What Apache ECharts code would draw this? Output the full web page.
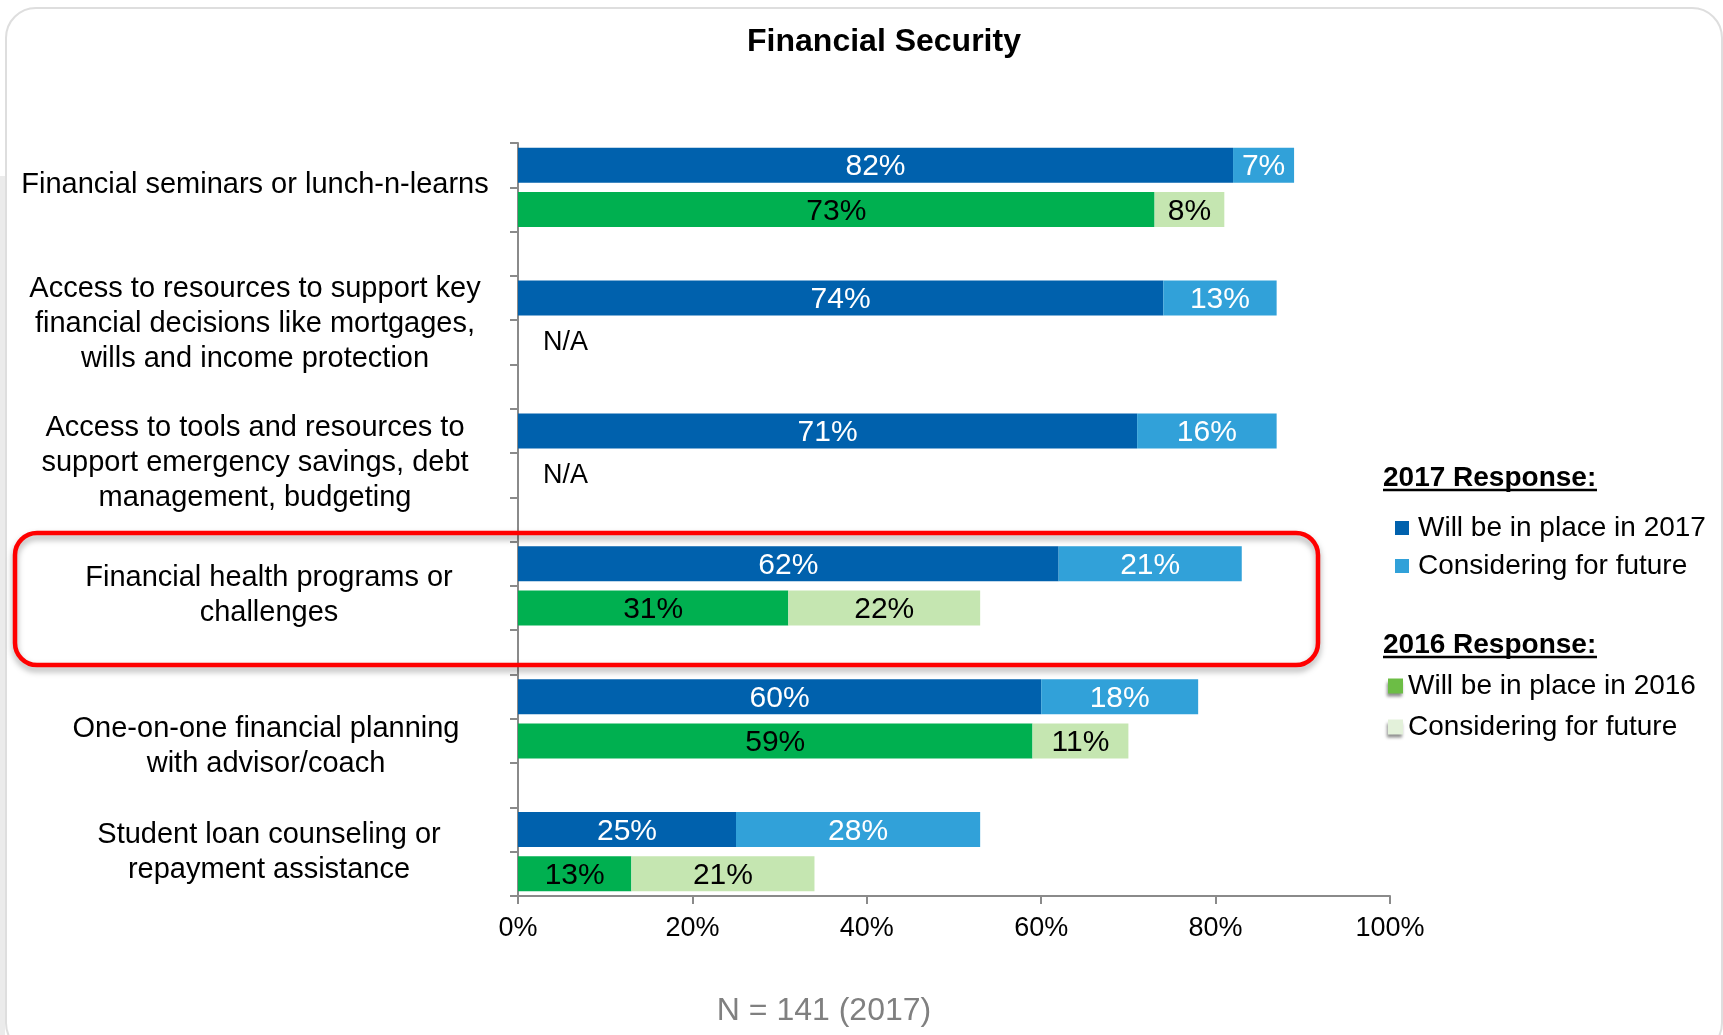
<!DOCTYPE html>
<html>
<head>
<meta charset="utf-8">
<title>Financial Security</title>
<script src="https://cdn.jsdelivr.net/npm/echarts@6/dist/echarts.min.js"></script>
<style>
  html, body { margin: 0; padding: 0; background: #ffffff; }
  #chart { width: 1723px; height: 1035px; }
</style>
</head>
<body>
<div id="chart"></div>
<script>
// Program categories (one group of bars each)
const groupLabels = [
  'Financial seminars or lunch-n-learns',
  'Access to resources to support key\nfinancial decisions like mortgages,\nwills and income protection',
  'Access to tools and resources to\nsupport emergency savings, debt\nmanagement, budgeting',
  'Financial health programs or\nchallenges',
  'One-on-one financial planning\nwith advisor/coach',
  'Student loan counseling or\nrepayment assistance'
];

// 2017 survey responses (%)
const inPlace2017 = [82, 74, 71, 62, 60, 25];
const considering2017 = [7, 13, 16, 21, 18, 28];

// 2016 survey responses (%), null = not asked that year
const inPlace2016 = [73, null, null, 31, 59, 13];
const considering2016 = [8, null, null, 22, 11, 21];

// Value axis ticks (%)
const xTicks = [0, 20, 40, 60, 80, 100];

// Fine placement of the category captions (px)
const captionShiftX = [-1, 0, 0, 14, 11, 14];
const captionShiftY = [-2, 4, 10, 10, 28, 1];

const FONT = '"Liberation Sans", Arial, Helvetica, sans-serif';

// Layout of the plot area
const GRID = { left: 518, right: 333, top: 143, height: 753 };

// One row per bar: 2017 row, 2016 row, then a spacer between groups
const rows = [];
groupLabels.forEach((g, i) => {
  rows.push({ g: i, kind: '2017' });
  rows.push({ g: i, kind: '2016' });
  if (i < groupLabels.length - 1) rows.push({ g: i, kind: 'gap' });
});
const rowKeys = rows.map(r => r.g + '-' + r.kind);
// Row boundaries: captions sit on the boundary between a group's two bars
const boundaryKeys = rows.map((r, i) => 'b' + i).concat(['b' + rows.length]);

function pick(kind, arr) {
  return rows.map(r => (r.kind === kind && arr[r.g] != null) ? arr[r.g] : '-');
}

const naData = rows.map(r => (r.kind === '2016' && inPlace2016[r.g] == null) ? 0 : '-');

// Rich text styles for the captions
const captionRich = {};
groupLabels.forEach((_, g) => {
  captionRich['t' + g] = {
    fontFamily: FONT, fontSize: 29, lineHeight: 35, color: '#000000',
    padding: [0, 0, 0, Math.max(0, 2 * captionShiftX[g])]
  };
  captionRich['s' + g] = {
    fontFamily: FONT, fontSize: 1, lineHeight: Math.max(1, 2 * Math.abs(captionShiftY[g]))
  };
});

function captionFor(idx) {
  if (idx % 3 !== 1) return '';
  const g = (idx - 1) / 3;
  const lines = groupLabels[g].split('\n').map(l => '{t' + g + '|' + l + '}');
  const dy = captionShiftY[g];
  if (dy > 0) lines.unshift('{s' + g + '| }');
  else if (dy < 0) lines.push('{s' + g + '| }');
  return lines.join('\n');
}

const labelWhite = {
  show: true, position: 'inside', formatter: '{c}%', offset: [0, 2],
  color: '#ffffff', fontSize: 30, fontFamily: FONT
};
const labelBlack = Object.assign({}, labelWhite, { color: '#000000' });

const BAR_W = 35;

const option = {
  animation: false,
  backgroundColor: '#ffffff',
  title: [
    {
      text: 'Financial Security', left: 879, top: 21, textAlign: 'center',
      textStyle: { fontFamily: FONT, fontSize: 32, fontWeight: 'bold', color: '#000000' }
    },
    {
      text: '2017 Response:', left: 1383, top: 464, padding: 0,
      textStyle: { fontFamily: FONT, fontSize: 28, fontWeight: 'bold', color: '#000000' }
    },
    {
      text: '2016 Response:', left: 1383, top: 631, padding: 0,
      textStyle: { fontFamily: FONT, fontSize: 28, fontWeight: 'bold', color: '#000000' }
    },
    {
      text: 'N = 141 (2017)', left: 819, top: 990, textAlign: 'center',
      textStyle: { fontFamily: FONT, fontSize: 32, fontWeight: 'normal', color: '#808080' }
    }
  ],
  legend: [
    {
      orient: 'vertical', left: 1395, top: 514, padding: 0, itemGap: 10,
      itemWidth: 14, itemHeight: 14, icon: 'rect', selectedMode: false,
      data: ['Will be in place in 2017', 'Considering for future (2017)'],
      formatter: n => n.replace(' (2017)', ''),
      textStyle: { fontFamily: FONT, fontSize: 28, color: '#000000', padding: [0, 0, 0, 4] }
    },
    {
      orient: 'vertical', left: 1388, top: 672, padding: 0, itemGap: 13,
      itemWidth: 15, itemHeight: 15, icon: 'rect', selectedMode: false,
      data: [
        { name: 'Will be in place in 2016',
          itemStyle: { color: '#6CBD45', shadowColor: 'rgba(0,0,0,0.45)', shadowBlur: 3, shadowOffsetX: -1, shadowOffsetY: 3 } },
        { name: 'Considering for future (2016)',
          itemStyle: { color: '#E3F1DA', shadowColor: 'rgba(0,0,0,0.45)', shadowBlur: 3, shadowOffsetX: -1, shadowOffsetY: 3 } }
      ],
      formatter: n => n.replace(' (2016)', ''),
      textStyle: { fontFamily: FONT, fontSize: 28, color: '#000000' }
    }
  ],
  grid: {
    left: GRID.left, right: GRID.right, top: GRID.top, height: GRID.height,
    containLabel: false, outerBoundsMode: 'none'
  },
  xAxis: {
    type: 'value',
    min: xTicks[0], max: xTicks[xTicks.length - 1], interval: xTicks[1] - xTicks[0],
    axisLine: { show: true, lineStyle: { color: '#8a8a8a', width: 2 } },
    axisTick: { show: true, length: 8, lineStyle: { color: '#8a8a8a', width: 2 } },
    splitLine: { show: false },
    axisLabel: {
      formatter: '{value}%', margin: 19,
      fontFamily: FONT, fontSize: 27, color: '#000000'
    }
  },
  yAxis: [
    {
      // bar rows
      type: 'category',
      inverse: true,
      data: rowKeys,
      axisLine: { show: true, lineStyle: { color: '#8a8a8a', width: 2 } },
      axisTick: { show: true, length: 8, interval: 0, lineStyle: { color: '#8a8a8a', width: 2 } },
      axisLabel: { show: false }
    },
    {
      // captions placed on row boundaries
      type: 'category',
      position: 'left',
      inverse: true,
      boundaryGap: false,
      data: boundaryKeys,
      axisLine: { show: false },
      axisTick: { show: false },
      splitLine: { show: false },
      axisLabel: {
        show: true,
        interval: 0,
        hideOverlap: false,
        margin: 263,
        align: 'center',
        fontFamily: FONT, fontSize: 29, lineHeight: 35, color: '#000000',
        rich: captionRich,
        formatter: (value, idx) => captionFor(idx)
      }
    }
  ],
  series: [
    {
      name: 'Will be in place in 2017', type: 'bar', stack: 'total', barWidth: BAR_W,
      data: pick('2017', inPlace2017),
      itemStyle: { color: '#0061AD' }, label: labelWhite
    },
    {
      name: 'Considering for future (2017)', type: 'bar', stack: 'total', barWidth: BAR_W,
      data: pick('2017', considering2017),
      itemStyle: { color: '#31A1D9' }, label: labelWhite
    },
    {
      name: 'Will be in place in 2016', type: 'bar', stack: 'total', barWidth: BAR_W,
      data: pick('2016', inPlace2016),
      itemStyle: { color: '#00B050' }, label: labelBlack
    },
    {
      name: 'Considering for future (2016)', type: 'bar', stack: 'total', barWidth: BAR_W,
      data: pick('2016', considering2016),
      itemStyle: { color: '#C5E6B1' }, label: labelBlack
    },
    {
      name: 'not asked', type: 'bar', stack: 'total', barWidth: BAR_W,
      data: naData, silent: true,
      itemStyle: { color: 'rgba(0,0,0,0)' },
      label: {
        show: true, position: 'right', distance: 25, formatter: 'N/A',
        fontFamily: FONT, fontSize: 27, color: '#000000'
      }
    }
  ],
  graphic: [
    // panel frame
    {
      type: 'rect', z: -10, silent: true,
      shape: { x: 6, y: 8, width: 1716, height: 1045, r: 30 },
      style: { fill: 'none', stroke: '#dedede', lineWidth: 2 }
    },
    {
      type: 'rect', z: -11, silent: true,
      shape: { x: 0, y: 176, width: 5, height: 859 },
      style: { fill: '#ebebeb' }
    },
    // underlines of the legend headers
    {
      type: 'line', silent: true,
      shape: { x1: 1383, y1: 490, x2: 1597, y2: 490 },
      style: { stroke: '#000000', lineWidth: 2.5 }
    },
    {
      type: 'line', silent: true,
      shape: { x1: 1383, y1: 657, x2: 1597, y2: 657 },
      style: { stroke: '#000000', lineWidth: 2.5 }
    },
    // highlight around the financial health programs group
    {
      type: 'rect', z: 100, silent: true,
      shape: { x: 15, y: 533, width: 1303, height: 132, r: 22 },
      style: {
        fill: 'none', stroke: '#FF0000', lineWidth: 4.5,
        shadowColor: 'rgba(0,0,0,0.35)', shadowBlur: 6, shadowOffsetX: 0, shadowOffsetY: 4
      }
    }
  ]
};

const chart = echarts.init(document.getElementById('chart'), null, { renderer: 'canvas' });
chart.setOption(option);
</script>
</body>
</html>
